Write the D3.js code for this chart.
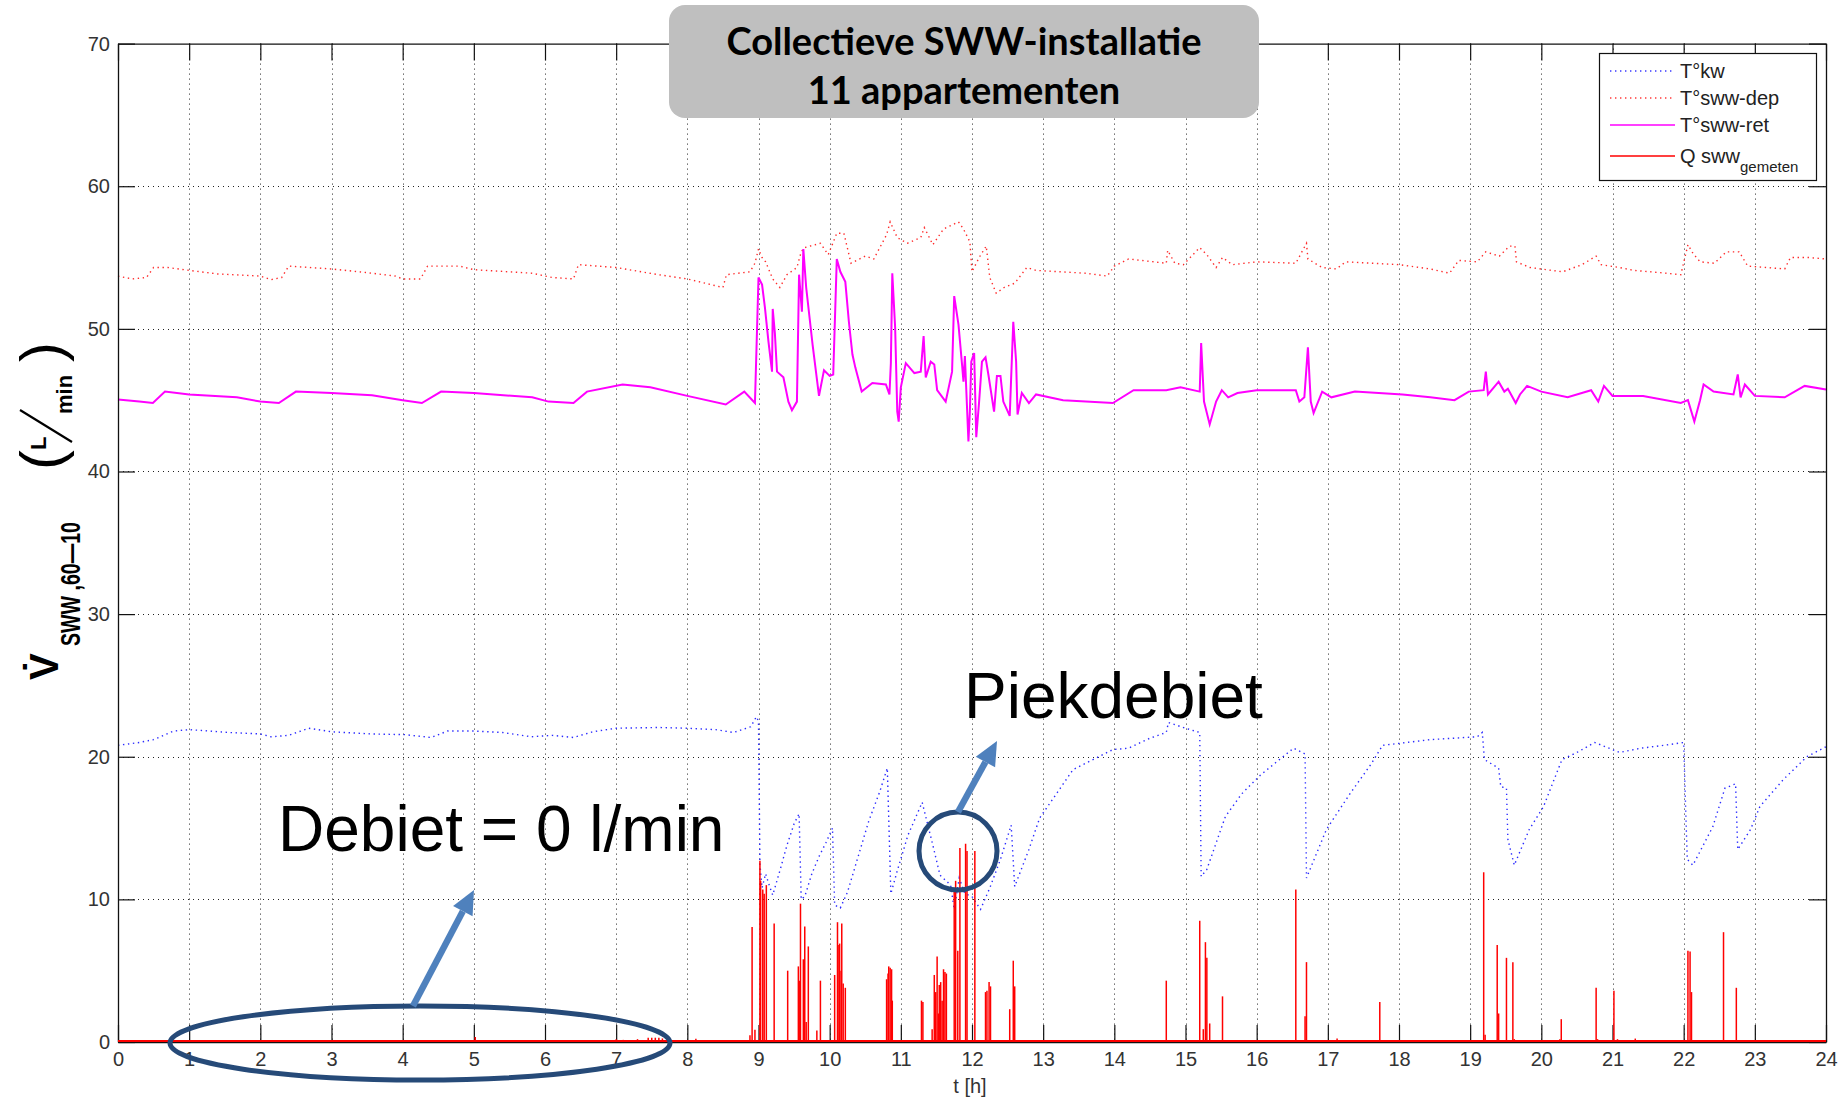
<!DOCTYPE html>
<html>
<head>
<meta charset="utf-8">
<script src="https://cdn.jsdelivr.net/npm/d3@7"></script>
<style>
  html, body { margin: 0; padding: 0; background: #fff; }
  svg { display: block; }
</style>
</head>
<body>
<svg id="chart" width="1848" height="1099"></svg>
<script>
// ---------------- DATA ----------------
const xTickValues = [0,1,2,3,4,5,6,7,8,9,10,11,12,13,14,15,16,17,18,19,20,21,22,23,24];
const yTickValues = [0,10,20,30,40,50,60,70];

const seriesNames = ["T°kw", "T°sww-dep", "T°sww-ret", "Q sww"];

// T°kw (blue dotted)
const kwHours = [0,0.3,0.5,0.78,1.0,1.3,1.55,2.0,2.15,2.4,2.68,3.0,3.55,4.03,4.4,4.63,5.0,5.4,5.81,6.1,6.4,6.67,7.0,7.6,8.0,8.4,8.65,8.89,8.97,9.0,
  9.02,9.05,9.1,9.15,9.2,9.3,9.4,9.5,9.57,9.6,9.65,9.75,9.85,9.95,10.04,10.07,10.15,10.25,10.4,10.55,10.7,10.81,10.86,10.95,11.1,11.3,11.45,11.55,11.7,11.75,11.82,11.9,12.0,12.12,12.25,12.4,12.55,12.6,12.8,12.95,13.2,13.42,13.7,13.98,
  14.2,14.5,14.73,14.76,15.0,15.2,15.22,15.3,15.56,15.79,16.05,16.32,16.52,16.68,16.7,16.98,17.31,17.61,17.77,18.44,19.1,19.17,19.2,19.4,19.43,19.51,19.53,19.62,19.83,20.03,20.29,20.5,20.75,21.0,21.1,21.4,21.72,22.0,22.05,22.13,22.41,22.58,22.73,22.76,22.94,23.07,23.4,23.73,24.0];
const kwValues = [20.8,21.0,21.2,21.8,21.9,21.8,21.7,21.6,21.4,21.5,22.0,21.75,21.6,21.55,21.35,21.8,21.8,21.7,21.4,21.5,21.35,21.75,22.0,22.05,22.0,21.9,21.7,22.1,22.8,22.5,
  12.5,10.8,11.8,11.0,10.3,12.0,13.8,15.3,16.0,10.0,10.2,11.8,13.0,14.0,15.0,9.6,9.4,10.5,13.0,15.5,17.5,19.2,10.4,12.0,14.5,16.8,13.8,11.7,11.0,9.3,11.5,10.4,10.2,9.3,10.8,12.8,15.2,10.9,13.5,15.7,17.5,19.1,19.8,20.5,
  20.6,21.3,21.7,22.4,22.0,21.7,11.6,12.1,15.8,17.4,18.7,19.8,20.6,20.2,11.5,14.9,17.4,19.5,20.8,21.2,21.4,21.7,19.8,19.2,17.9,17.8,14.2,12.4,14.9,16.5,19.8,20.3,21.0,20.5,20.3,20.6,20.8,21.0,12.8,12.4,15.1,17.8,18.1,13.5,14.9,16.5,18.4,20.0,20.7];

// T°sww-dep (red dotted)
const depHours = [0,0.2,0.4,0.5,0.7,1.0,1.4,2.0,2.15,2.3,2.4,3.0,3.45,3.9,4.0,4.25,4.35,4.8,5.0,5.82,6.1,6.4,6.47,7.0,7.59,8.0,8.5,8.55,8.88,8.95,
  9.0,9.05,9.1,9.2,9.3,9.4,9.54,9.6,9.65,9.87,9.98,10.1,10.2,10.3,10.5,10.62,10.8,10.85,10.95,11.09,11.28,11.33,11.45,11.6,11.81,11.88,11.97,12.0,12.1,12.2,12.25,12.34,12.45,12.6,12.77,12.9,13.24,13.6,13.9,
  14.0,14.2,14.73,14.75,14.85,14.97,15.2,15.3,15.43,15.52,15.66,16.0,16.55,16.7,16.72,16.92,17.12,17.25,18.0,18.44,18.71,18.84,19.1,19.22,19.41,19.55,19.63,19.65,19.84,20.3,20.57,20.77,20.84,21.1,21.3,21.76,21.96,22.06,22.13,22.23,22.43,22.6,22.78,22.9,23.42,23.5,23.76,24.0];
const depValues = [53.7,53.5,53.6,54.3,54.3,54.1,53.85,53.7,53.45,53.6,54.4,54.2,53.97,53.7,53.5,53.5,54.4,54.4,54.15,53.9,53.6,53.5,54.5,54.3,53.8,53.5,52.9,53.8,54.0,54.6,
  55.6,55.0,54.7,53.5,52.9,53.8,54.3,55.4,55.7,56.0,55.2,56.7,56.7,54.6,55.1,54.9,56.6,57.5,56.4,56.0,56.4,57.1,55.9,57.0,57.5,57.0,56.1,54.0,55.0,55.8,53.6,52.5,52.9,53.2,54.3,54.1,54.0,53.9,53.7,
  54.4,54.9,54.6,55.5,54.6,54.5,55.7,55.2,54.3,55.0,54.5,54.7,54.6,56.0,54.9,54.3,54.2,54.7,54.5,54.2,53.9,54.8,54.7,55.4,55.1,55.8,55.8,54.7,54.3,54.0,54.5,55.1,54.5,54.3,54.1,53.9,53.8,55.9,55.3,54.7,54.6,55.4,55.4,54.4,54.2,55.0,55.0,54.9];

// T°sww-ret (magenta solid)
const retHours = [0,0.3,0.49,0.66,1.0,1.67,2.0,2.26,2.5,3.0,3.57,4.0,4.27,4.54,5.0,5.82,6.05,6.4,6.59,7.09,7.48,8.0,8.54,8.8,8.95,
  9.0,9.05,9.09,9.14,9.19,9.2,9.23,9.26,9.35,9.42,9.47,9.54,9.57,9.61,9.63,9.67,9.76,9.85,9.92,10.0,10.05,10.1,10.15,10.22,10.27,10.32,10.36,10.45,10.6,10.79,10.84,10.86,10.88,10.92,10.95,10.97,11.0,11.07,11.19,11.28,11.32,11.35,11.42,11.47,11.51,11.63,11.72,11.75,11.81,11.86,11.88,11.9,11.95,11.97,11.99,12.03,12.06,12.1,12.14,12.19,12.23,12.31,12.35,12.4,12.44,12.53,12.58,12.62,12.64,12.7,12.8,12.9,13.28,13.98,
  14.27,14.73,14.93,15.2,15.22,15.26,15.34,15.43,15.51,15.6,15.73,16.0,16.55,16.6,16.67,16.72,16.76,16.8,16.92,17.05,17.38,18.05,18.44,18.78,18.98,19.19,19.22,19.25,19.4,19.48,19.53,19.64,19.7,19.8,20.0,20.37,20.7,20.8,20.88,21.0,21.43,21.96,22.06,22.15,22.23,22.28,22.42,22.7,22.76,22.8,22.86,23.0,23.42,23.7,24.0];
const retValues = [45.05,44.9,44.8,45.6,45.4,45.2,44.9,44.8,45.6,45.5,45.35,45.0,44.8,45.6,45.5,45.2,44.9,44.8,45.6,46.1,45.9,45.3,44.7,45.6,44.8,
  53.6,53.1,51.5,49.1,47.0,51.4,49.7,47.0,46.6,44.9,44.3,44.9,53.8,51.2,55.6,52.9,48.9,45.3,47.1,46.7,46.8,54.9,54.0,53.3,50.5,48.2,47.3,45.6,46.2,46.1,45.4,47.6,53.9,50.1,44.2,43.5,45.9,47.6,46.9,47.0,49.5,46.6,47.7,47.5,45.7,44.9,47.0,52.3,50.3,47.5,46.3,48.1,42.1,44.2,47.7,48.3,42.4,44.9,47.7,48.0,46.8,44.2,46.7,46.7,44.9,43.9,50.5,47.7,44.0,45.5,44.8,45.4,45.0,44.8,
  45.7,45.7,45.9,45.6,49.0,44.9,43.3,44.9,45.7,45.2,45.5,45.7,45.7,44.9,45.2,48.7,44.9,44.1,45.6,45.2,45.6,45.4,45.2,45.0,45.6,45.7,47.0,45.4,46.3,45.6,45.8,44.8,45.4,46.0,45.6,45.2,45.7,44.9,46.0,45.3,45.3,44.8,45.0,43.5,45.0,46.1,45.6,45.4,46.8,45.2,46.1,45.3,45.2,46.0,45.75];

// Q sww gemeten (red solid spikes, L/min)
const qHours = [5.02,7.0,7.1,7.3,7.45,7.5,7.55,7.6,7.65,8.12,8.27,8.88,8.91,8.95,9.02,9.03,9.06,9.08,9.11,9.22,9.41,9.56,9.58,9.59,9.63,9.65,9.67,9.7,9.82,9.87,
  10.07,10.11,10.13,10.14,10.16,10.17,10.19,10.22,10.5,10.65,10.8,10.82,10.83,10.85,10.87,10.88,11.29,11.31,11.44,11.47,11.49,11.51,11.53,11.54,11.56,11.58,11.6,11.62,11.64,11.75,11.77,11.8,11.83,11.91,11.93,12.04,12.19,12.21,12.24,12.26,12.53,12.58,12.6,12.8,12.92,
  14.73,15.2,15.25,15.28,15.3,15.34,15.52,16.55,16.58,16.68,16.7,17.13,17.73,19.19,19.21,19.38,19.4,19.51,19.6,19.62,19.83,20.26,20.28,20.77,20.79,21.02,21.07,21.32,22.06,22.09,22.11,22.56,22.74];
const qValues = [0.35,0.2,0.15,0.2,0.3,0.3,0.3,0.3,0.25,0.23,0.1,0.47,8.06,0.86,12.7,11.3,10.7,10.4,11.0,8.3,5.0,5.3,4.3,9.7,5.8,8.1,1.4,6.7,0.8,4.3,
  4.7,8.4,6.8,6.9,5.0,8.3,4.1,3.8,0.1,0.1,4.4,4.8,5.3,5.2,5.1,2.9,2.9,2.8,0.9,4.7,3.5,6.0,2.0,4.0,4.2,2.9,5.1,4.9,4.8,10.6,11.3,6.4,13.6,13.9,13.4,13.4,3.5,3.6,4.2,3.9,2.3,5.7,3.9,0.1,0.1,
  4.3,8.5,0.9,7.0,5.9,1.3,3.2,10.7,0.1,1.8,5.6,0.24,2.8,11.9,0.5,6.8,2.0,5.9,5.6,0.2,0.1,0.2,1.6,3.8,0.2,3.6,0.2,0.24,6.4,6.35,3.5,7.7,3.8];

// ---------------- DRAW ----------------
const svg = d3.select("#chart");
const L = 118, R = 1826, T = 43.6, B = 1042;
const x = d3.scaleLinear().domain([0, 24]).range([L, R]);
const y = d3.scaleLinear().domain([0, 70]).range([B, T]);

const toPts = (hs, vs) => hs.map((h, i) => [h, vs[i]]);
const line = d3.line().x(d => x(d[0])).y(d => y(d[1]));
const FONT = "'Liberation Sans', Arial, sans-serif";

// grid
const grid = svg.append("g").attr("stroke", "#222").attr("stroke-width", 1).attr("stroke-dasharray", "1,4");
grid.selectAll("line.gx").data(xTickValues.slice(1, -1)).join("line")
  .attr("x1", d => Math.round(x(d)) + 0.5).attr("x2", d => Math.round(x(d)) + 0.5).attr("y1", T).attr("y2", B);
grid.selectAll("line.gy").data(yTickValues.slice(1, -1)).join("line")
  .attr("y1", d => Math.round(y(d)) + 0.5).attr("y2", d => Math.round(y(d)) + 0.5).attr("x1", L).attr("x2", R);

// series
svg.append("path").datum(toPts(kwHours, kwValues)).attr("d", line)
  .attr("fill", "none").attr("stroke", "#2a2aff").attr("stroke-width", 1.4).attr("stroke-dasharray", "1.4,3.6");
svg.append("path").datum(toPts(depHours, depValues)).attr("d", line)
  .attr("fill", "none").attr("stroke", "#ff2a2a").attr("stroke-width", 1.4).attr("stroke-dasharray", "1.4,3.6");
svg.append("path").datum(toPts(retHours, retValues)).attr("d", line)
  .attr("fill", "none").attr("stroke", "#ff00ff").attr("stroke-width", 2);

// axes (ticks inside, MATLAB style)
const tick = 17;
const axB = svg.append("g").attr("transform", `translate(0,${B})`)
  .call(d3.axisBottom(x).tickValues(xTickValues).tickFormat(d3.format("d")).tickSizeInner(-tick).tickSizeOuter(0).tickPadding(10));
const axT = svg.append("g").attr("transform", `translate(0,${T})`)
  .call(d3.axisTop(x).tickValues(xTickValues).tickFormat("").tickSizeInner(-tick).tickSizeOuter(0));
const axLft = svg.append("g").attr("transform", `translate(${L},0)`)
  .call(d3.axisLeft(y).tickValues(yTickValues).tickFormat(d3.format("d")).tickSizeInner(-tick).tickSizeOuter(0).tickPadding(8));
const axRgt = svg.append("g").attr("transform", `translate(${R},0)`)
  .call(d3.axisRight(y).tickValues(yTickValues).tickFormat("").tickSizeInner(-tick).tickSizeOuter(0));
[axB, axT, axLft, axRgt].forEach(a => {
  a.selectAll("path.domain").attr("stroke", "#111").attr("stroke-width", 1.3);
  a.selectAll(".tick line").attr("stroke", "#111").attr("stroke-width", 1.2);
  a.selectAll("text").attr("font-family", FONT).attr("font-size", 20).attr("fill", "#333");
});

// Q spikes + zero baseline
svg.append("g").selectAll("line").data(toPts(qHours, qValues)).join("line")
  .attr("x1", d => x(d[0])).attr("x2", d => x(d[0])).attr("y1", y(0)).attr("y2", d => y(d[1]))
  .attr("stroke", "#ff0000").attr("stroke-width", 1.5);
svg.append("line").attr("x1", x(0)).attr("x2", x(24)).attr("y1", y(0) - 1).attr("y2", y(0) - 1)
  .attr("stroke", "#ff0000").attr("stroke-width", 2.2);

// x-axis label
svg.append("text").attr("x", 970).attr("y", 1093).attr("text-anchor", "middle")
  .attr("font-family", FONT).attr("font-size", 20).attr("fill", "#333").text("t [h]");

// y-axis label (rotated: group x = -screenY, group y = screenX)
const yl = svg.append("g").attr("transform", "rotate(-90)")
  .attr("font-family", FONT).attr("fill", "#000");
yl.append("text").attr("x", -680).attr("y", 58).attr("font-size", 40).attr("font-weight", "bold").text("V\u0307");
yl.append("text").attr("x", -646).attr("y", 80).attr("font-size", 27).attr("font-weight", "bold")
  .attr("textLength", 124).attr("lengthAdjust", "spacingAndGlyphs").text("SWW ,60\u201410");
yl.append("text").attr("x", -470).attr("y", 62).attr("font-size", 60).text("(");
yl.append("text").attr("x", -450).attr("y", 46).attr("font-size", 22).attr("font-weight", "bold").text("L");
yl.append("line").attr("x1", -442).attr("y1", 72).attr("x2", -410).attr("y2", 20).attr("stroke", "#000").attr("stroke-width", 2.2);
yl.append("text").attr("x", -414).attr("y", 72).attr("font-size", 22).attr("font-weight", "bold").text("min");
yl.append("text").attr("x", -362).attr("y", 62).attr("font-size", 60).text(")");

// legend
const lg = svg.append("g").attr("font-family", FONT).attr("font-size", 20).attr("fill", "#222");
lg.append("rect").attr("x", 1599.5).attr("y", 53.5).attr("width", 217).attr("height", 127)
  .attr("fill", "#fff").attr("stroke", "#111").attr("stroke-width", 1.2);
const legendRows = [
  {name: seriesNames[0], color: "#3a3aff", dash: "1.4,3.6", ly: 71, ty: 78},
  {name: seriesNames[1], color: "#ff3a3a", dash: "1.4,3.6", ly: 98, ty: 105},
  {name: seriesNames[2], color: "#ff00ff", dash: null, ly: 125, ty: 132},
  {name: seriesNames[3], color: "#ff0000", dash: null, ly: 156, ty: 163}
];
legendRows.forEach((r, i) => {
  lg.append("line").attr("x1", 1610).attr("x2", 1675).attr("y1", r.ly).attr("y2", r.ly)
    .attr("stroke", r.color).attr("stroke-width", 1.6).attr("stroke-dasharray", r.dash);
  const t = lg.append("text").attr("x", 1680).attr("y", r.ty).text(r.name);
  if (i === 3) t.append("tspan").attr("font-size", 15).attr("dy", 9).text("gemeten");
});

// annotations
const navy = "#264a78", steel = "#4f81bd";
svg.append("ellipse").attr("cx", 420).attr("cy", 1043).attr("rx", 250).attr("ry", 37)
  .attr("fill", "none").attr("stroke", navy).attr("stroke-width", 5);
svg.append("circle").attr("cx", 958).attr("cy", 851).attr("r", 39)
  .attr("fill", "none").attr("stroke", navy).attr("stroke-width", 5);

function arrow(x1, y1, x2, y2) {
  const ang = Math.atan2(y2 - y1, x2 - x1);
  const hl = 24, hw = 11;
  const bx = x2 - hl * Math.cos(ang), by = y2 - hl * Math.sin(ang);
  svg.append("line").attr("x1", x1).attr("y1", y1).attr("x2", bx).attr("y2", by)
    .attr("stroke", steel).attr("stroke-width", 6.5);
  const px = -Math.sin(ang), py = Math.cos(ang);
  svg.append("path").attr("d", `M${x2},${y2}L${bx + hw * px},${by + hw * py}L${bx - hw * px},${by - hw * py}Z`)
    .attr("fill", steel);
}
arrow(413, 1006, 474, 890);
arrow(958, 812, 997, 741);

svg.append("text").attr("x", 964).attr("y", 718).attr("font-family", FONT)
  .attr("font-size", 64).attr("fill", "#000").text("Piekdebiet");
svg.append("text").attr("x", 278).attr("y", 851).attr("font-family", FONT)
  .attr("font-size", 64).attr("fill", "#000").text("Debiet = 0 l/min");

// title box
svg.append("rect").attr("x", 669).attr("y", 5).attr("width", 590).attr("height", 113).attr("rx", 16)
  .attr("fill", "#bfbfbf");
const tt = svg.append("text").attr("text-anchor", "middle").attr("font-family", "Lato, 'Open Sans', sans-serif")
  .attr("font-weight", "bold").attr("font-size", 38).attr("fill", "#000");
tt.append("tspan").attr("x", 964).attr("y", 55).text("Collectieve SWW-installatie");
tt.append("tspan").attr("x", 964).attr("y", 104).text("11 appartementen");
</script>
</body>
</html>
